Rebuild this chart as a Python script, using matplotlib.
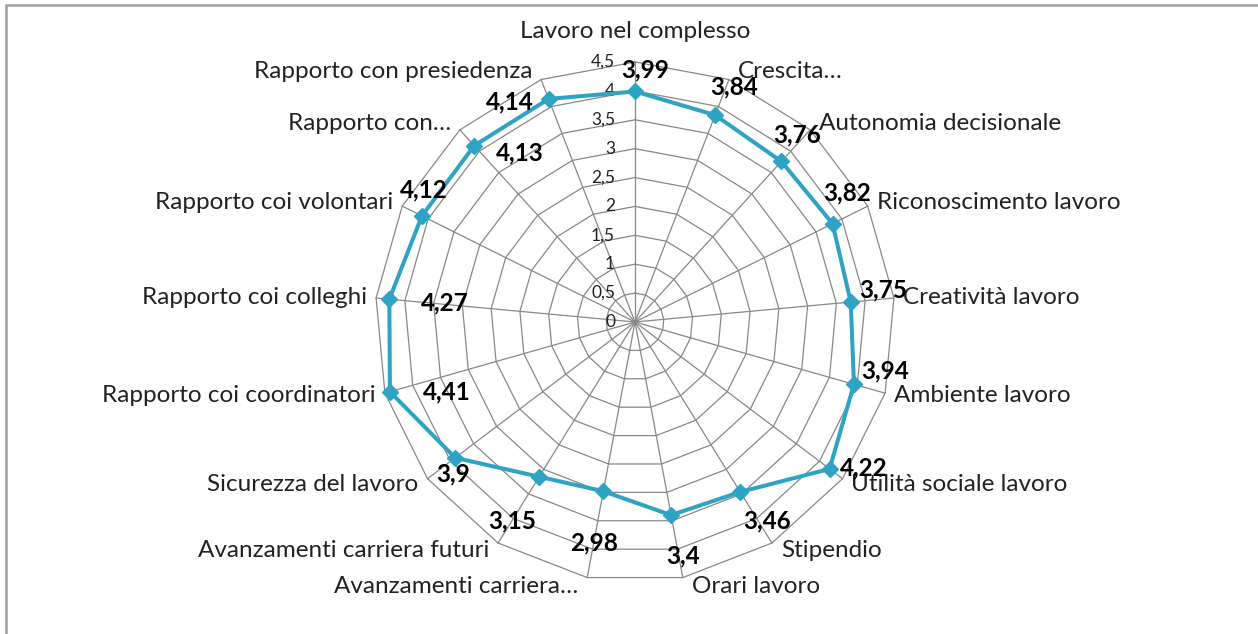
import numpy as np
import matplotlib.pyplot as plt
from matplotlib.patches import Rectangle

plt.rcParams['font.family'] = ['Lato', 'DejaVu Sans']

# Data
categories = ["Lavoro nel complesso", "Crescita…", "Autonomia decisionale",
              "Riconoscimento lavoro", "Creatività lavoro", "Ambiente lavoro",
              "Utilità sociale lavoro", "Stipendio", "Orari lavoro",
              "Avanzamenti carriera…", "Avanzamenti carriera futuri",
              "Sicurezza del lavoro", "Rapporto coi coordinatori",
              "Rapporto coi colleghi", "Rapporto coi volontari",
              "Rapporto con…", "Rapporto con presiedenza"]
values = [3.99, 3.84, 3.76, 3.82, 3.75, 3.94, 4.22, 3.46, 3.40, 2.98,
          3.15, 3.90, 4.41, 4.27, 4.12, 4.13, 4.14]
value_labels = ["3,99", "3,84", "3,76", "3,82", "3,75", "3,94", "4,22", "3,46",
                "3,4", "2,98", "3,15", "3,9", "4,41", "4,27", "4,12", "4,13", "4,14"]
ticks = [0, 0.5, 1, 1.5, 2, 2.5, 3, 3.5, 4, 4.5]
tick_labels = ["0", "0,5", "1", "1,5", "2", "2,5", "3", "3,5", "4", "4,5"]

# where Excel dropped each data label (pixels from the marker, x right / y up)
label_offsets = [(10, 22), (19, 28), (16, 27), (15, 31), (32, 12), (31, 13),
                 (34, 1), (27, -29), (12, -41), (-9, -52), (-27, -44),
                 (-2, -16), (57, 0), (55, -4), (2, 26), (46, -7), (-39, -3)]

line_color = '#2FA3C4'
grid_color = '#888888'
rmax = 4.5

n = len(categories)
angles = np.linspace(0, 2 * np.pi, n, endpoint=False)
closed = np.append(angles, angles[0])

fig = plt.figure(figsize=(12.58, 6.34), dpi=100)
W, H = 1258, 634
cx, cy, R = 635, 322, 260
ax = fig.add_axes([(cx - R) / W, (H - cy - R) / H, 2 * R / W, 2 * R / H],
                  projection='polar')
ax.set_theta_zero_location('N')
ax.set_theta_direction(-1)
ax.set_ylim(0, rmax)
ax.set_axis_off()

# polygon grid + spokes
for lev in ticks[1:]:
    ax.plot(closed, [lev] * (n + 1), color=grid_color, lw=0.9, clip_on=False, zorder=1)
for a in angles:
    ax.plot([a, a], [0, rmax], color=grid_color, lw=0.9, clip_on=False, zorder=1)

# radial tick labels along the top spoke
for t, tl in zip(ticks, tick_labels):
    ax.annotate(tl, xy=(0, t), xytext=(-20, 0), textcoords='offset pixels',
                ha='right', va='center', fontsize=12.5, color='#222222')

# series
ax.plot(closed, values + values[:1], color=line_color, lw=2.9, zorder=3,
        clip_on=False)
ax.plot(angles, values, linestyle='none', marker='D', markersize=8,
        color=line_color, zorder=4, clip_on=False)

for a, v, lab, off in zip(angles, values, value_labels, label_offsets):
    ax.annotate(lab, xy=(a, v), xytext=off, textcoords='offset pixels',
                ha='center', va='center', fontsize=17.5, fontweight='bold',
                color='black', zorder=5)

# category labels just outside the outer polygon
for a, cat in zip(angles, categories):
    s, c = np.sin(a), np.cos(a)
    if abs(s) < 1e-6 and c > 0:
        ax.annotate(cat, xy=(a, rmax), xytext=(0, 30), textcoords='offset pixels',
                    ha='center', va='center', fontsize=17.5, color='#222222')
        continue
    ha = 'left' if s > 0 else 'right'
    ax.annotate(cat, xy=(a, rmax), xytext=(9 if s > 0 else -9, 9 * c),
                textcoords='offset pixels', ha=ha, va='center',
                fontsize=17.5, color='#222222')

# chart frame (only left and top edges fall inside the picture)
fig.add_artist(Rectangle((6.5 / W, -0.1), 1.2, 1 - 5.5 / H + 0.1,
                         transform=fig.transFigure, fill=False,
                         edgecolor='#A0A0A0', lw=1.8))

fig.savefig('out.png', dpi=100)
